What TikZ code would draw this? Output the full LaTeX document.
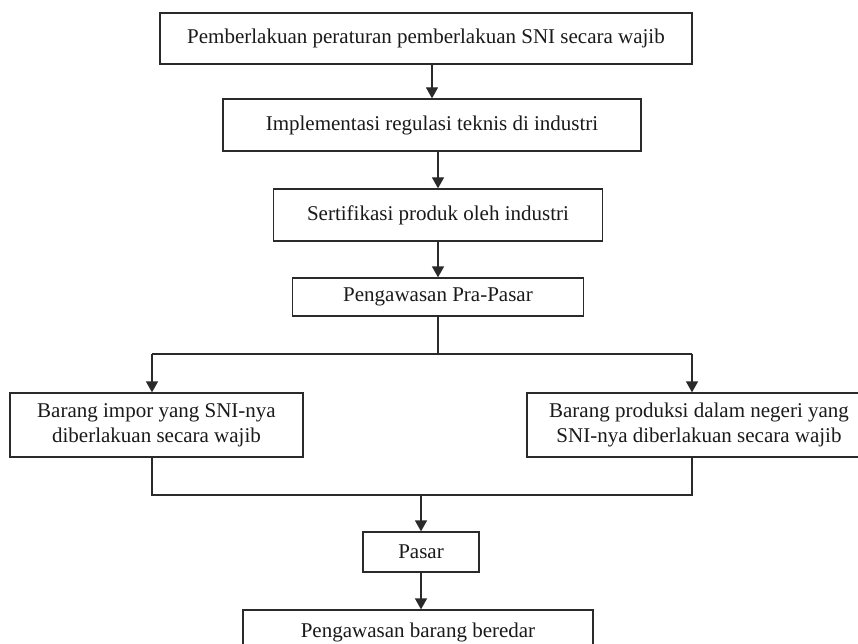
\documentclass[tikz,border=0pt]{standalone}
\usepackage{fontspec}
\setmainfont{Liberation Serif}
\usetikzlibrary{arrows.meta,calc}
\definecolor{ln}{HTML}{2A2A2A}
\definecolor{tx}{HTML}{1A1A1A}
\tikzset{
  box/.style={draw=ln, line width=1.3pt, rectangle, inner sep=0pt, align=center,
    text=tx, font=\fontsize{21pt}{25pt}\selectfont},
  conn/.style={draw=ln, line width=1.3pt},
  arr/.style={conn, -{Triangle[length=11pt,width=12pt]}}
}
\begin{document}
\begin{tikzpicture}[x=1pt,y=1pt]
\useasboundingbox (0,0) rectangle (858,-644);
\clip (0,0) rectangle (858,-644);
\fill[white] (0,0) rectangle (858,-644);
\node[box, minimum width=532pt, minimum height=51pt] (b1) at (426,-38.5) {Pemberlakuan peraturan pemberlakuan SNI secara wajib};
\node[box, minimum width=418pt, minimum height=52pt] (b2) at (432,-125) {Implementasi regulasi teknis di industri};
\node[box, minimum width=329pt, minimum height=52pt] (b3) at (438,-215) {Sertifikasi produk oleh industri};
\node[box, minimum width=291pt, minimum height=38pt] (b4) at (438,-297) {Pengawasan Pra-Pasar};
\node[box, minimum width=293pt, minimum height=64pt] (L) at (156.5,-425) {Barang impor yang SNI-nya\\diberlakuan secara wajib};
\node[box, minimum width=344pt, minimum height=64pt] (R) at (699,-425) {Barang produksi dalam negeri yang\\SNI-nya diberlakuan secara wajib};
\node[box, minimum width=116pt, minimum height=40pt] (P) at (421,-552) {Pasar};
\node[box, minimum width=350pt, minimum height=44pt] (B) at (418,-632) {Pengawasan barang beredar};

\coordinate (jl) at (152,-354);
\coordinate (jr) at (692,-354);
\coordinate (ml) at (152,-495);
\coordinate (mr) at (692,-495);

\draw[arr] (b1.south -| b2.north) -- (b2.north);
\draw[arr] (b2.south -| b3.north) -- (b3.north);
\draw[arr] (b3.south) -- (b4.north);
\draw[conn] (b4.south) -- (b4.south |- jl);
\draw[conn] (jl) -- (jr);
\draw[arr] (jl) -- (jl |- L.north);
\draw[arr] (jr) -- (jr |- R.north);
\draw[conn] (jl |- L.south) -- (ml) -- (mr) -- (jr |- R.south);
\draw[arr] (P.north |- ml) -- (P.north);
\draw[arr] (P.south) -- (P.south |- B.north);
\end{tikzpicture}
\end{document}
